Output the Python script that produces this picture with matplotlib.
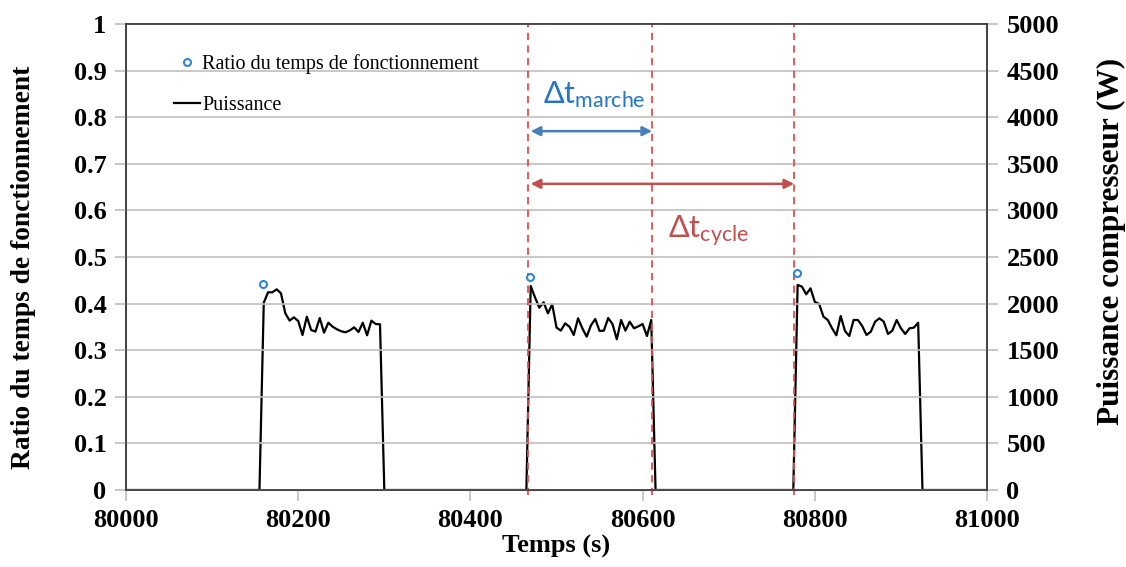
import matplotlib
matplotlib.use("Agg")
import matplotlib.pyplot as plt
from matplotlib.lines import Line2D

plt.rcParams['font.family'] = ['Liberation Serif', 'DejaVu Serif']
plt.rcParams['mathtext.fontset'] = 'custom'
plt.rcParams['mathtext.rm'] = 'Lato'
plt.rcParams['mathtext.it'] = 'Lato'

# puissance compresseur (W), un point toutes les 5 s
t1 = list(range(80155, 80305, 5))
p1 = [0, 2010, 2121, 2121, 2153, 2110, 1896, 1817, 1853, 1813, 1663, 1860, 1717, 1699, 1845,
      1688, 1795, 1752, 1724, 1703, 1692, 1713, 1745, 1695, 1795, 1660, 1817, 1781, 1778, 0]
t2 = list(range(80465, 80620, 5))
p2 = [0, 2189, 2067, 1956, 2014, 1896, 1992, 1742, 1710, 1788, 1752, 1663, 1842, 1735, 1645,
      1767, 1835, 1706, 1710, 1845, 1781, 1617, 1824, 1710, 1806, 1735, 1756, 1781, 1652, 1824, 0]
t3 = list(range(80775, 80930, 5))
p3 = [0, 2200, 2182, 2100, 2164, 2017, 1996, 1860, 1824, 1735, 1660, 1867, 1706, 1652, 1824,
      1824, 1760, 1663, 1699, 1806, 1842, 1806, 1674, 1710, 1824, 1735, 1674, 1735, 1742, 1795, 0]

temps = [80000] + t1 + t2 + t3 + [81000]
puissance = [0] + p1 + p2 + p3 + [0]

# ratio du temps de fonctionnement
t_ratio = [80159, 80469, 80779]
ratio = [0.442, 0.457, 0.466]

# repères du cycle
t_debut, t_arret, t_fin = 80467, 80611, 80776

fig = plt.figure(figsize=(11.26, 5.67), dpi=100)
ax = fig.add_axes([0.1119, 0.1358, 0.7647, 0.8219])
ax2 = ax.twinx()

grid_col = '#BFBFBF'
ax.set_xlim(80000, 81000)
ax.set_ylim(0, 1)
ax2.set_ylim(0, 5000)
ax.set_yticks([i / 10 for i in range(11)])
ax.set_yticklabels(['0'] + [f'0.{i}' for i in range(1, 10)] + ['1'])
ax.set_xticks(range(80000, 81001, 200))
ax2.set_yticks(range(0, 5001, 500))
ax.yaxis.grid(True, color=grid_col, lw=1.2)
ax.set_axisbelow(True)

for a in (ax, ax2):
    a.tick_params(axis='both', direction='out', length=8, width=1.2, color=grid_col,
                  labelsize=19, pad=6)
    for lab in a.get_xticklabels() + a.get_yticklabels():
        lab.set_fontweight('bold')
    for s in a.spines.values():
        s.set_color('#404040')
        s.set_linewidth(1.2)

ax2.plot(temps, puissance, color='black', lw=1.6, zorder=3, label='Puissance')
ax.plot(t_ratio, ratio, 'o', ms=5, mfc='white', mec='#2E86D1', mew=1.5, zorder=5,
        label='Ratio du temps de fonctionnement')
ax.set_zorder(ax2.get_zorder() + 1)
ax.patch.set_visible(False)

for tv in (t_debut, t_arret, t_fin):
    ax.axvline(tv, ymin=-0.01, ymax=1, color='#D9534F', ls=(0, (4, 3)), lw=1.3, clip_on=False)

ax.annotate('', xy=(t_debut + 3, 0.770), xytext=(t_arret, 0.770),
            arrowprops=dict(arrowstyle='<|-|>', color='#4A7EBB', lw=1.8, shrinkA=0, shrinkB=0,
                            mutation_scale=14))
ax.annotate('', xy=(t_debut + 3, 0.657), xytext=(t_fin, 0.657),
            arrowprops=dict(arrowstyle='<|-|>', color='#C0504D', lw=1.8, shrinkA=0, shrinkB=0,
                            mutation_scale=14))
ax.text(80544, 0.848, r'$\Delta\mathrm{t}_{\mathrm{marche}}$', color='#2375C5', fontsize=22,
        ha='center', va='center')
ax.text(80676, 0.554, r'$\Delta\mathrm{t}_{\mathrm{cycle}}$', color='#C0504D', fontsize=22,
        ha='center', va='center')

ax.set_xlabel('Temps (s)', fontsize=19, fontweight='bold', labelpad=2)
ax.set_ylabel('Ratio du temps de fonctionnement', fontsize=19.8, fontweight='bold', va='center')
ax.yaxis.set_label_coords(24 / 1126, 1 - 267 / 567, transform=fig.transFigure)
ax2.set_ylabel('Puissance compresseur (W)', fontsize=22.5, fontweight='bold', va='center')
ax2.yaxis.set_label_coords(1111 / 1126, 1 - 241 / 567, transform=fig.transFigure)

handles = [Line2D([], [], ls='none', marker='o', ms=5, mfc='white', mec='#2E86D1', mew=1.5),
           Line2D([], [], color='black', lw=1.6)]
ax.legend(handles, ['Ratio du temps de fonctionnement', 'Puissance'], loc='upper left',
          bbox_to_anchor=(0.035, 0.975), frameon=False, fontsize=14.5, handlelength=1.3,
          handletextpad=0.1, labelspacing=1.1)

fig.savefig('out.png', dpi=100)
